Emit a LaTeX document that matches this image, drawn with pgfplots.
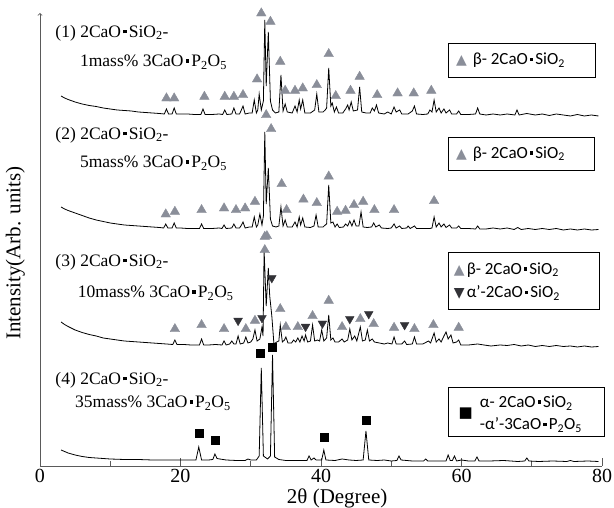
\documentclass[border=0pt]{standalone}
\usepackage{pgfplots}
\pgfplotsset{compat=1.18}
\usepackage{fontspec}
\setmainfont{Liberation Serif}
\newfontfamily\legfont{Carlito}
\newfontfamily\sym{DejaVu Sans}
\definecolor{trigrey}{RGB}{138,142,153}
\definecolor{tridark}{RGB}{50,50,55}
\definecolor{axgrey}{RGB}{90,90,90}
\newcommand{\dt}{\hspace{0.12em}\raisebox{0.22em}{\rule{0.2em}{0.2em}}\hspace{0.12em}}
\newcommand{\lblfont}{\fontsize{17.5}{20}\selectfont}
\newcommand{\lgfont}{\legfont\fontsize{17}{19}\selectfont}

\begin{document}
\begin{tikzpicture}
\begin{axis}[
  scale only axis,
  width=562pt, height=453pt,
  xmin=0, xmax=80, ymin=0, ymax=453,
  axis x line=bottom, axis y line=left,
  x axis line style={-},
  y axis line style={->},
  axis line style={axgrey, line width=0.8pt},
  xtick={0,20,40,60,80},
  minor xtick={10,30,50,70},
  xtick align=inside,
  major tick length=8pt, minor tick length=5pt,
  tick style={axgrey, line width=0.7pt},
  ytick=\empty,
  ticklabel style={font=\fontsize{20}{22}\selectfont},
  /pgf/number format/assume math mode=true,
  xlabel={2θ (Degree)},
  ylabel={Intensity(Arb. units)},
  label style={font=\fontsize{21}{23}\selectfont},
  xlabel style={at={(axis cs:42.3,0)}, yshift=-32pt, anchor=center},
  ylabel style={at={(axis description cs:-0.044,0.47)}, anchor=center},
  clip=false,
]
% (1) 1mass%
\addplot[black, line width=0.8pt] coordinates {
(3,370) (3.5,368) (4,366.5) (5,364) (6,362) (7,360.5) (8,359.5) (9,358) (10,357) (11,356) (12,355.5) (13,355) (14,354) (15,353.5) (16,353) (17,352.5)
(17.7,352) (18.0,357) (18.3,352) (18.8,352) (19.1,358) (19.4,352) (20,352) (21,352) (22,351.5) (22.9,351.5) (23.2,357) (23.5,351.5) (24.5,351.5) (25.5,352) (26.0,351.5) (26.3,356) (26.6,351.5)
(27.3,352) (27.6,358) (27.9,352) (28.4,352) (28.6,355) (28.9,360) (29.2,352) (29.8,353) (30.2,353) (30.5,366) (30.8,353) (31.0,356) (31.2,372) (31.5,356) (31.8,365) (32.0,446) (32.2,380) (32.5,434) (32.8,365) (33.1,356) (33.5,353)
(34.0,354) (34.3,391) (34.6,355) (34.9,362) (35.2,354) (35.9,353) (36.3,360) (36.6,354) (36.9,366) (37.1,357) (37.4,366) (37.7,353) (38.5,353) (39.1,356) (39.4,372) (39.7,354) (40.3,354) (40.6,356) (40.8,358) (41.1,398) (41.4,360) (41.6,363) (41.9,354) (42.2,359) (42.5,353)
(43.1,353) (43.5,357) (43.8,361) (44.0,356) (44.3,364) (44.6,355) (45.2,356) (45.5,379) (45.8,354) (46.4,353) (47.0,353) (47.3,358) (47.6,355) (47.9,361) (48.2,353) (49.0,352) (49.5,354) (50.0,352) (50.4,359) (50.7,354) (51.2,356) (51.5,352) (52.4,352) (53.0,355) (53.3,360) (53.6,352)
(54.5,351.5) (55.2,352) (55.5,356) (55.8,354) (56.1,366) (56.4,354) (56.8,358) (57.1,353) (57.5,357) (57.8,353) (58.3,356) (58.6,352) (59.3,352) (59.6,355) (59.9,351.5) (61,351.5) (62.0,352) (62.3,358) (62.6,352) (63.5,351) (64.5,352) (65.5,351) (66.5,352) (67.6,351) (67.9,356) (68.2,351)
(69.3,352.5) (70.5,351) (71.5,352) (72.5,350.5) (73.5,352) (74.5,351) (75.5,350) (76.5,351.5) (77.5,350) (78.5,351) (79.5,350)
};
% (2) 5mass%
\addplot[black, line width=0.8pt] coordinates {
(3,259) (3.5,257) (4,255.5) (5,253) (6,250.5) (7,248) (8,246) (9,244.5) (10,243) (11,242) (12,241) (13,240.5) (14,240) (15,239.5) (16,239) (17,238.5) (17.6,238)
(17.9,242) (18.2,238) (18.8,238) (19.1,243) (19.4,238) (20,238) (21,237.5) (22,237.5) (22.7,237.5) (23.0,242) (23.3,237.5) (24.5,237.5) (25.5,238) (25.9,237.5) (26.2,241) (26.5,237.5)
(27.3,238) (27.6,242) (27.9,238) (28.4,238) (28.6,240) (28.9,244) (29.2,238) (29.8,239) (30.2,239) (30.5,249) (30.8,239) (31.0,241) (31.3,252) (31.6,241) (31.8,250) (32.0,334) (32.2,262) (32.5,298) (32.8,247) (33.1,240) (33.6,239)
(34.0,240) (34.3,259) (34.6,240) (34.9,246) (35.2,239) (35.9,239) (36.3,244) (36.6,239) (36.9,249) (37.1,241) (37.4,248) (37.7,239) (38.5,238.5) (39.0,240) (39.3,251) (39.6,239) (40.3,239) (40.6,241) (40.8,242) (41.1,281) (41.4,243) (41.7,244) (42.0,239) (42.3,242) (42.6,238.5)
(43.2,239) (43.5,242) (43.8,240) (44.1,245) (44.4,240) (44.7,246) (45.0,240) (45.4,240) (45.7,254) (46.0,239) (46.6,238.5) (47.2,239) (47.5,243) (47.8,239) (48.3,241) (48.6,238) (49.5,237.5) (50.0,238) (50.4,242) (50.7,238) (51.2,240) (51.5,237.5) (52.2,238) (52.4,240) (52.7,237.5)
(53.3,240) (53.6,237.5) (54.5,237.5) (55.5,237.5) (55.8,238) (56.1,249) (56.4,239) (56.8,243) (57.1,239) (57.5,242) (57.8,238.5) (58.3,241) (58.6,238) (59.3,238) (59.6,240) (59.9,237.5) (61,237.5) (62.0,237) (62.3,240) (62.6,237) (63.5,237) (64.5,238) (65.5,237) (66.5,238)
(67.5,236.5) (68.0,238.5) (68.5,236.5) (69.5,237.5) (70.5,236.5) (71.5,237.5) (72.5,236.5) (73.5,237.5) (74.5,236) (75.5,237) (76.5,236) (77.5,237) (78.5,236) (79.5,236.5)
};
% (3) 10mass%
\addplot[black, line width=0.8pt] coordinates {
(3,144) (3.5,141.5) (4,139.5) (5,136) (6,133.5) (7,131.5) (8,130) (9,128) (10,127) (11,126) (12,125) (13,124.5) (14,124) (15,123.5) (16,123) (17,122.5) (18,122) (18.9,121.5) (19.2,126) (19.5,121.5)
(20.5,121.5) (21.5,121) (22.7,121) (23.0,127) (23.3,121) (24,121) (25,121.5) (25.9,121) (26.2,125) (26.5,121) (27,122) (27.3,125) (27.6,122) (27.9,122) (28.2,130) (28.5,122) (29.0,123) (29.3,129) (29.6,123) (30.0,124) (30.3,127) (30.6,136) (30.9,125)
(31.3,127) (31.6,139) (31.75,130) (31.9,216) (32.2,160) (32.5,198) (32.7,170) (33.0,150) (33.3,122) (33.7,124) (34.0,125) (34.2,141) (34.5,124) (34.8,126) (35.0,129) (35.3,123) (35.8,123) (36.1,126) (36.4,124) (36.7,128) (37.0,124) (37.3,130) (37.6,125) (37.8,131) (38.1,124)
(38.5,125) (38.8,141) (39.1,125) (39.5,126) (39.8,125) (40.1,136) (40.4,125) (40.8,128) (41.1,151) (41.4,126) (41.7,128) (42.0,124) (42.5,124) (43.0,127) (43.3,124) (43.8,126) (44.1,137) (44.4,126) (44.8,130) (45.1,125) (45.6,139) (45.9,125) (46.3,126) (46.6,136) (46.9,125)
(47.3,127) (47.6,124) (48.3,123) (49.0,122) (49.5,123) (50.1,122) (50.4,129) (50.7,122) (51.5,122) (51.9,125) (52.2,121.5) (53.0,122) (53.3,129) (53.6,122) (54.5,122) (55.3,125) (55.6,123) (56.1,133) (56.4,124) (56.8,127) (57.1,124) (57.5,130) (57.8,134) (58.1,127) (58.5,131) (58.8,123)
(59.3,124) (59.6,126) (59.9,121) (61,121) (62.3,122) (63.2,121) (64.2,120) (65.5,121) (66.5,120.5) (67.5,121.5) (68.5,120) (69.5,121) (70.5,119.5) (71.5,120.5) (72.5,119.5) (73.5,120.5) (74.5,119.5) (75.5,120) (76.5,119) (77.5,120) (78.5,119) (79.5,119.5)
};
% (4) 35mass%
\addplot[black, line width=0.8pt] coordinates {
(3,16) (3.5,14.5) (4,13) (5,11) (6,9.5) (7,8.5) (8,8) (9,7.5) (10,7) (12,6.5) (14,6.5) (16,6) (18,6) (20,6) (21,6) (22.2,6) (22.6,19) (23.0,6) (24,6) (24.6,6.5) (24.9,12) (25.2,7.5) (25.6,7) (26.5,6) (28,5.5)
(29.2,5.5) (29.6,7) (30,6) (30.8,6) (31.2,10) (31.5,98) (31.8,10) (32.4,7) (32.8,10) (33.1,111) (33.4,9) (34,6.5) (35,5.5) (37,5.5) (38.0,5.5) (38.3,10) (38.6,6) (39.0,8) (39.3,6) (40.1,6) (40.4,16) (40.7,6) (42,5.5) (43,7) (44,6) (45,5.5)
(46.0,6) (46.4,35) (46.8,6) (48,5.5) (49,6) (50,5) (50.8,5.5) (51.1,10) (51.4,6) (53,5) (54.6,5) (54.9,7) (55.2,5) (57,5) (57.8,5) (58.1,11) (58.4,5.5) (58.7,5.5) (59.0,10) (59.3,5) (60,6) (61,5) (61.9,5) (62.2,9) (62.5,5)
(64,5) (66,5.5) (68,4.5) (69.0,5) (69.3,8) (69.6,5) (71,4.5) (73,5) (75,4.5) (75.5,5.5) (76,4.5) (78,5) (79.5,4.5)
};
% beta-C2S markers
\addplot[only marks, mark=triangle*, mark size=5.5pt, color=trigrey] coordinates {
(18.0,367.7) (19.1,367.7) (23.4,369.3) (26.3,369.3) (27.6,369.3) (28.9,371) (30.9,386.7) (31.5,452.7) (32.8,444.3) (32.2,351) (34.2,404.3) (34.9,375.3) (36.3,375.3) (37.4,377.7) (39.4,381) (41.1,412) (42.1,370) (44.2,375.3) (45.5,389.3) (48.0,371) (50.9,372.7) (53.2,372.7) (55.7,375.3)
(17.9,251.7) (19.2,254.3) (23.0,256) (26.2,257.7) (27.9,256) (29.2,257.7) (30.6,264.3) (32.9,337) (32.3,230) (34.4,282) (35.1,256) (37.5,266.5) (39.4,263) (41.1,289.5) (42.3,254.3) (43.5,255.3) (44.7,261) (46.0,264.3) (47.6,256) (50.4,256) (56.1,265)
(19.2,137) (23.0,141) (26.2,137) (29.3,137) (30.6,145.3) (32.0,229.3) (32.0,216) (34.2,157) (35.0,139) (36.7,139) (38.8,150) (41.1,165.3) (43.0,139) (45.6,147) (47.5,142) (50.4,138.3) (53.3,137) (56.0,141) (59.6,138.3)
};
% alpha'-C2S markers
\addplot[only marks, mark=triangle*, mark size=5pt, color=tridark, mark options={rotate=180}] coordinates {
(28.2,145.3) (31.6,148) (33.0,188) (37.8,139.3) (40.2,142.5) (44.1,147) (46.8,152) (51.9,141)
};
% alpha-C2S - alpha'-C3P markers
\addplot[only marks, mark=square*, mark size=4pt, color=black] coordinates {
(22.6,33) (24.9,26) (31.4,113) (33.1,119) (40.4,29) (46.4,46)
};
% sample labels
\node[anchor=west, font=\lblfont] at (axis cs:1.7,433) {(1) 2CaO\dt SiO\textsubscript{2}-};
\node[anchor=west, font=\lblfont] at (axis cs:5.2,404) {1mass\% 3CaO\dt P\textsubscript{2}O\textsubscript{5}};
\node[anchor=west, font=\lblfont] at (axis cs:1.7,331) {(2) 2CaO\dt SiO\textsubscript{2}-};
\node[anchor=west, font=\lblfont] at (axis cs:5.2,303) {5mass\% 3CaO\dt P\textsubscript{2}O\textsubscript{5}};
\node[anchor=west, font=\lblfont] at (axis cs:1.7,204) {(3) 2CaO\dt SiO\textsubscript{2}-};
\node[anchor=west, font=\lblfont] at (axis cs:4.9,173) {10mass\% 3CaO\dt P\textsubscript{2}O\textsubscript{5}};
\node[anchor=west, font=\lblfont] at (axis cs:1.7,86) {(4) 2CaO\dt SiO\textsubscript{2}-};
\node[anchor=west, font=\lblfont] at (axis cs:4.5,63) {35mass\% 3CaO\dt P\textsubscript{2}O\textsubscript{5}};
% phase boxes
\draw[line width=0.8pt] (axis cs:58.1,388.7) rectangle (axis cs:79.0,422.7);
\node[anchor=west, font=\lgfont, inner sep=0pt] at (axis cs:59.2,405.7) {{\sym\fontsize{14}{16}\selectfont\color{trigrey}▲}\hspace{0.35em}β- 2CaO\dt SiO\textsubscript{2}};
\draw[line width=0.8pt] (axis cs:58.1,295.3) rectangle (axis cs:78.9,328.7);
\node[anchor=west, font=\lgfont, inner sep=0pt] at (axis cs:59.2,312) {{\sym\fontsize{14}{16}\selectfont\color{trigrey}▲}\hspace{0.35em}β- 2CaO\dt SiO\textsubscript{2}};
\draw[line width=0.8pt] (axis cs:58.1,157) rectangle (axis cs:79.6,213.3);
\node[anchor=west, font=\lgfont, inner sep=0pt] at (axis cs:58.9,196) {{\sym\fontsize{14}{16}\selectfont\color{trigrey}▲}\hspace{0.12em}β- 2CaO\dt SiO\textsubscript{2}};
\node[anchor=west, font=\lgfont, inner sep=0pt] at (axis cs:58.9,173) {{\sym\fontsize{14}{16}\selectfont\color{tridark}▼}\hspace{0.12em}α’-2CaO\dt SiO\textsubscript{2}};
\draw[line width=0.8pt] (axis cs:58.1,29.3) rectangle (axis cs:80.4,78.3);
\node[font=\sym\fontsize{15}{16}\selectfont] at (axis cs:60.6,52.7) {■};
\node[anchor=west, font=\lgfont, inner sep=0pt] at (axis cs:62.6,63) {α- 2CaO\dt SiO\textsubscript{2}};
\node[anchor=west, font=\lgfont, inner sep=0pt] at (axis cs:62.6,41) {-α’-3CaO\dt P\textsubscript{2}O\textsubscript{5}};
\end{axis}
\pgfresetboundingbox
\path[use as bounding box] (-40pt,-42pt) rectangle (574pt,466pt);
\end{tikzpicture}
\end{document}
